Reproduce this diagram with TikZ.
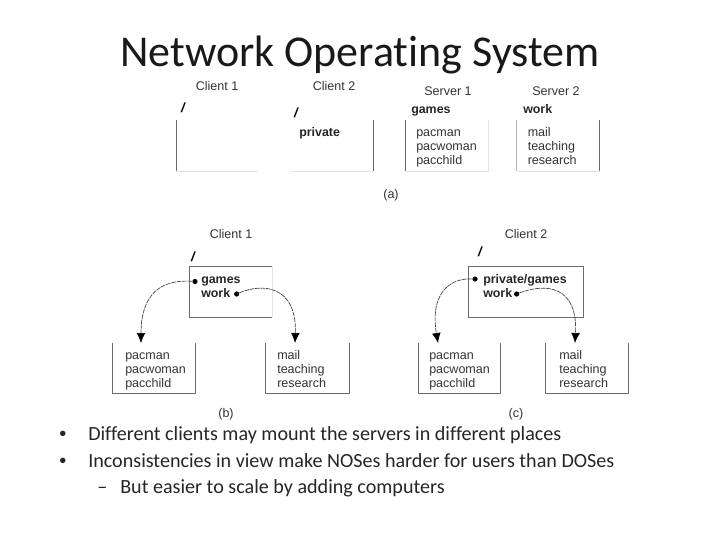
\documentclass[tikz,border=0pt]{standalone}
\usepackage{fontspec}
\setmainfont[Ligatures=NoCommon]{Carlito}
\newfontfamily\arialf{Liberation Sans}
\usetikzlibrary{arrows.meta}
\definecolor{figtext}{gray}{0.2}
\definecolor{figline}{gray}{0.42}
\newcommand{\fl}{\rule{0pt}{8pt}}
\tikzset{
  x=0.75pt,y=-0.75pt,
  lab/.style={font=\arialf\fontsize{9.4}{10.5}\selectfont,text=figtext,inner sep=0pt,align=left},
  boldlab/.style={lab,font=\arialf\bfseries\fontsize{9.3}{10.5}\selectfont,text=black!85},
  captxt/.style={lab,anchor=center},
  slash/.style={lab,font=\arialf\bfseries\itshape\fontsize{10}{10}\selectfont,text=black},
  boxline/.style={figline,line width=0.7pt},
  lightline/.style={gray!22,line width=0.5pt},
  pdot/.style={circle,fill=black,inner sep=0pt,minimum size=3.9pt},
  linkline/.style={black!75,line width=0.5pt,dash pattern=on 3.5pt off 0.6pt,-{Latex[length=7.5pt,width=6.5pt,black]}},
  bul/.style={font=\fontsize{15.08}{18}\selectfont,text=black!85,inner sep=0pt,anchor=base west}
}
\begin{document}
\begin{tikzpicture}
\useasboundingbox (0,0) rectangle (720,540);
\fill[white] (0,0) rectangle (720,540);
\node[font=\fontsize{33}{40}\selectfont,text=black!90,inner sep=0pt] (title) at (360,55) {Network Operating System};

% (a)
\node[captxt] (c1a) at (217,86) {Client 1};
\node[captxt] (c2a) at (334,86) {Client 2};
\node[captxt] (s1a) at (448,91) {Server 1};
\node[captxt] (s2a) at (556,91) {Server 2};
\node[slash] (ra1) at (183,108) {/};
\node[slash] (ra2) at (296,113) {/};
\node[boldlab,anchor=base west] (ga) at (411,113) {games};
\node[boldlab,anchor=base west] (wa) at (523,113) {work};
\draw[lightline] (176.5,171) -- (258,171);
\draw[boxline] (176.5,120) -- (176.5,171);
\draw[lightline] (290,171) -- (373,171);
\draw[boxline] (373,120) -- (373,171);
\node[boldlab,anchor=base west] (pa) at (299,136) {private};
\draw[lightline] (405,171) -- (488,171) -- (488,120);
\draw[boxline] (405,120) -- (405,171);
\draw[lightline] (516.5,171) -- (599,171);
\draw[boxline,gray!60] (516.5,120) -- (516.5,171);
\draw[boxline] (599,120) -- (599,171);
\node[lab,anchor=north west] (l1a) at (416,125.5) {\fl pacman\\pacwoman\\pacchild};
\node[lab,anchor=north west] (l2a) at (527.5,125.5) {\fl mail\\teaching\\research};
\node[captxt] (capa) at (391,195) {(a)};

% (b)
\node[captxt] (c1b) at (231,234) {Client 1};
\node[slash] (rb) at (193,257) {/};
\draw[boxline] (272,266) -- (189,266) -- (189,317) -- (272,317);
\draw[lightline] (272,266) -- (272,317);
\node[boldlab,anchor=north west] (mb) at (201,272.5) {\fl games\\work};
\node[pdot] (d1) at (195,281.5) {};
\node[pdot] (d2) at (236.7,294) {};
\draw[boxline] (112.5,343) -- (112.5,393) -- (195.5,393) -- (195.5,343);
\draw[boxline] (265.5,343) -- (265.5,393) -- (349,393) -- (349,343);
\node[lab,anchor=north west] (lb1) at (125,348.5) {\fl pacman\\pacwoman\\pacchild};
\node[lab,anchor=north west] (lb2) at (277,348.5) {\fl mail\\teaching\\research};
\coordinate (t1) at (141,343);
\coordinate (t2) at (295,343);
\draw[linkline] (d1) .. controls (160,279) and (141,295) .. (t1);
\draw[linkline] (d2) .. controls (262,283) and (297,285) .. (t2);
\node[captxt] (capb) at (226,414) {(b)};

% (c)
\node[captxt] (c2c) at (526,234) {Client 2};
\node[slash] (rc) at (480,252) {/};
\draw[boxline] (468.5,266) rectangle (583,317);
\node[boldlab,anchor=north west] (mc) at (483,272.5) {\fl private/games\\work};
\node[pdot] (d3) at (475,279) {};
\node[pdot] (d4) at (516.7,294) {};
\draw[boxline] (418.5,343) -- (418.5,393) -- (500.5,393) -- (500.5,343);
\draw[boxline] (545.5,343) -- (545.5,393) -- (628.5,393) -- (628.5,343);
\node[lab,anchor=north west] (lc1) at (429,348.5) {\fl pacman\\pacwoman\\pacchild};
\node[lab,anchor=north west] (lc2) at (559,348.5) {\fl mail\\teaching\\research};
\coordinate (t3) at (438,343);
\coordinate (t4) at (575,343);
\draw[linkline] (d3) .. controls (448,278) and (430,295) .. (t3);
\draw[linkline] (d4) .. controls (545,283) and (578,285) .. (t4);
\node[captxt] (capc) at (516,414) {(c)};

% text
\node[bul,font=\arialf\fontsize{15}{18}\selectfont] (b1) at (59,440) {•};
\node[bul] (t1x) at (88,440) {Different clients may mount the servers in different places};
\node[bul,font=\arialf\fontsize{15}{18}\selectfont] (b2) at (59,467) {•};
\node[bul] (t2x) at (88,467) {Inconsistencies in view make NOSes harder for users than DOSes};
\node[bul] (b3) at (97,493) {–};
\node[bul] (t3x) at (120,493) {But easier to scale by adding computers};
\end{tikzpicture}
\end{document}
